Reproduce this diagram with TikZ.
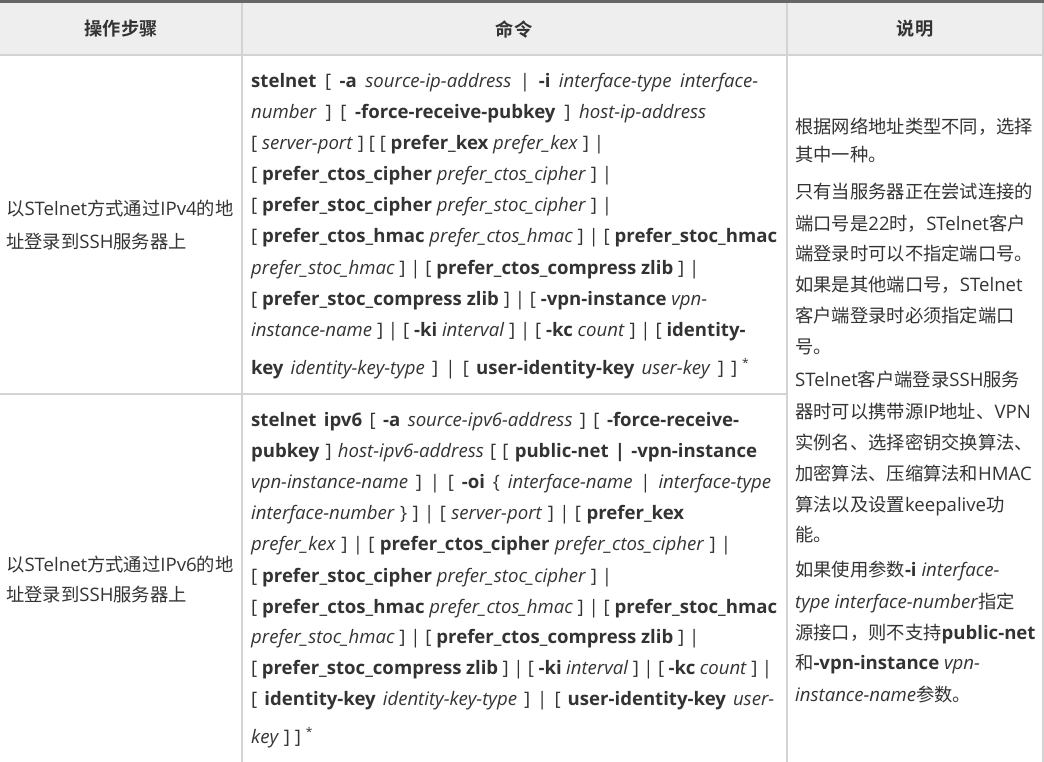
\documentclass[tikz,border=0pt]{standalone}
\usepackage{fontspec}
\setmainfont{Open Sans}
\newfontfamily\cjk{Noto Sans CJK SC}[BoldFont={Noto Sans CJK SC Bold}]
\definecolor{tc}{HTML}{333333}
\definecolor{hbg}{HTML}{EEEEEE}
\definecolor{grid}{HTML}{D3D3D3}
\definecolor{topbar}{HTML}{666666}
\newcommand\C[1]{{\cjk\fontsize{18.3}{20}\selectfont #1}}
\newcommand\kb[1]{\textbf{#1}}
\newcommand\ki[1]{\textit{#1}}
\newcommand\Ln[4]{\node[txt] (#1) at (#2,#3) {#4};}
\newcommand\Lw[5]{\node[txt] (#1) at (#2,#3) {\makebox[#4pt][s]{#5}};}
\newcommand\astmark{\raisebox{7pt}{\fontsize{12}{12}\selectfont *}}
\tikzset{
  txt/.style={anchor=base west, inner sep=0pt, text=tc, font=\fontsize{18.6}{20}\selectfont},
  head/.style={anchor=center, inner sep=0pt, text=tc, font=\cjk\bfseries\fontsize{18.2}{20}\selectfont},
  gridline/.style={draw=grid, line width=1.5pt}
}
\begin{document}
\begin{tikzpicture}[x=1pt,y=-1pt]
\useasboundingbox (0,0) rectangle (1044,762);
% header background
\fill[hbg] (0,3) rectangle (1043,55);
\fill[topbar] (0,0) rectangle (1044,3.5);
% grid
\draw[gridline] (0,55) -- (1043,55);
\draw[gridline] (0,394) -- (787,394);
\draw[gridline] (242,3.5) -- (242,762);
\draw[gridline] (787,3.5) -- (787,762);
\draw[gridline] (1043,3.5) -- (1043,762);
% header
\node[head] (h1) at (121,29) {操作步骤};
\node[head] (h2) at (514,29) {命令};
\node[head] (h3) at (915,29) {说明};
% column 1
\Ln{a1}{6}{216}{\C{以}STelnet\C{方式通过}IPv4\C{的地}}
\Ln{a2}{6}{248}{\C{址登录到}SSH\C{服务器上}}
\Ln{b1}{6}{571}{\C{以}STelnet\C{方式通过}IPv6\C{的地}}
\Ln{b2}{6}{601}{\C{址登录到}SSH\C{服务器上}}
% column 2, row 1
\Lw{c1}{251}{88}{507}{\kb{stelnet} [ \kb{-a} \ki{source-ip-address} | \kb{-i} \ki{interface-type interface-}}
\Lw{c2}{251}{119}{455}{\ki{number} ] [ \kb{-force-receive-pubkey} ] \ki{host-ip-address}}
\Ln{c3}{251}{150}{[ \ki{server-port} ] [ [ \kb{prefer\_kex} \ki{prefer\_kex} ] |}
\Ln{c4}{251}{181}{[ \kb{prefer\_ctos\_cipher} \ki{prefer\_ctos\_cipher} ] |}
\Ln{c5}{251}{212}{[ \kb{prefer\_stoc\_cipher} \ki{prefer\_stoc\_cipher} ] |}
\Ln{c6}{251}{243}{[ \kb{prefer\_ctos\_hmac} \ki{prefer\_ctos\_hmac} ] | [ \kb{prefer\_stoc\_hmac}}
\Ln{c7}{251}{274}{\ki{prefer\_stoc\_hmac} ] | [ \kb{prefer\_ctos\_compress zlib} ] |}
\Ln{c8}{251}{305}{[ \kb{prefer\_stoc\_compress zlib} ] | [ \kb{-vpn-instance} \ki{vpn-}}
\Ln{c9}{251}{336}{\ki{instance-name} ] | [ \kb{-ki} \ki{interval} ] | [ \kb{-kc} \ki{count} ] | [ \kb{identity-}}
\Ln{c10}{251}{374}{\makebox[486pt][s]{\kb{key} \ki{identity-key-type} ] | [ \kb{user-identity-key} \ki{user-key} ] ]} \astmark}
% column 2, row 2
\Lw{d1}{251}{426}{488}{\kb{stelnet ipv6} [ \kb{-a} \ki{source-ipv6-address} ] [ \kb{-force-receive-}}
\Lw{d2}{251}{457}{506}{\kb{pubkey} ] \ki{host-ipv6-address} [ [ \kb{public-net | -vpn-instance}}
\Lw{d3}{251}{488}{520}{\ki{vpn-instance-name} ] | [ \kb{-oi} \{ \ki{interface-name} | \ki{interface-type}}
\Lw{d4}{251}{519}{433}{\ki{interface-number} \} ] | [ \ki{server-port} ] | [ \kb{prefer\_kex}}
\Lw{d5}{251}{550}{480}{\ki{prefer\_kex} ] | [ \kb{prefer\_ctos\_cipher} \ki{prefer\_ctos\_cipher} ] |}
\Ln{d6}{251}{582}{[ \kb{prefer\_stoc\_cipher} \ki{prefer\_stoc\_cipher} ] |}
\Ln{d7}{251}{613}{[ \kb{prefer\_ctos\_hmac} \ki{prefer\_ctos\_hmac} ] | [ \kb{prefer\_stoc\_hmac}}
\Ln{d8}{251}{643}{\ki{prefer\_stoc\_hmac} ] | [ \kb{prefer\_ctos\_compress zlib} ] |}
\Lw{d9}{251}{674}{521}{[ \kb{prefer\_stoc\_compress zlib} ] | [ \kb{-ki} \ki{interval} ] | [ \kb{-kc} \ki{count} ] |}
\Lw{d10}{251}{705}{523}{[ \kb{identity-key} \ki{identity-key-type} ] | [ \kb{user-identity-key} \ki{user-}}
\Ln{d11}{251}{743}{\ki{key} ] ] \astmark}
% column 3
\Ln{e1}{795}{134}{\C{根据网络地址类型不同，选择}}
\Ln{e2}{795}{162}{\C{其中一种。}}
\Ln{e3}{795}{199}{\C{只有当服务器正在尝试连接的}}
\Ln{e4}{795}{230}{\C{端口号是}22\C{时，}STelnet\C{客户}}
\Ln{e5}{795}{261}{\C{端登录时可以不指定端口号。}}
\Ln{e6}{795}{291}{\C{如果是其他端口号，}STelnet}
\Ln{e7}{795}{322}{\C{客户端登录时必须指定端口}}
\Ln{e8}{795}{353}{\C{号。}}
\Ln{e9}{795}{386}{STelnet\C{客户端登录}SSH\C{服务}}
\Ln{e10}{795}{418}{\C{器时可以携带源}IP\C{地址、}VPN}
\Ln{e11}{795}{449}{\C{实例名、选择密钥交换算法、}}
\Ln{e12}{795}{480}{\C{加密算法、压缩算法和}HMAC}
\Ln{e13}{795}{511}{\C{算法以及设置}keepalive\C{功}}
\Ln{e14}{795}{541}{\C{能。}}
\Ln{e15}{795}{576}{\C{如果使用参数}\kb{-i} \ki{interface-}}
\Ln{e16}{795}{608}{\ki{type interface-number}\C{指定}}
\Ln{e17}{795}{639}{\C{源接口，则不支持}\kb{public-net}}
\Ln{e18}{795}{669}{\C{和}\kb{-vpn-instance} \ki{vpn-}}
\Ln{e19}{795}{701}{\ki{instance-name}\C{参数。}}
\end{tikzpicture}
\end{document}
